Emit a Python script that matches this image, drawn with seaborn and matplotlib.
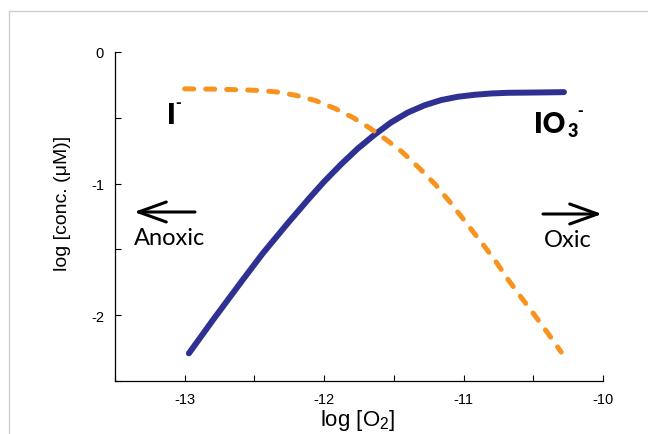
import numpy as np
import pandas as pd
import matplotlib
matplotlib.use("Agg")
import matplotlib.pyplot as plt
import seaborn as sns
from matplotlib.lines import Line2D

# ---- data ----
io3_x = [-12.97, -12.80, -12.59, -12.44, -12.26, -12.11, -12.00, -11.88, -11.76,
         -11.64, -11.52, -11.40, -11.28, -11.16, -11.04, -10.92, -10.80, -10.68,
         -10.50, -10.28]
io3_y = [-2.29, -2.04, -1.74, -1.53, -1.30, -1.115, -0.985, -0.855, -0.735,
         -0.63, -0.535, -0.46, -0.405, -0.365, -0.34, -0.325, -0.315, -0.31,
         -0.308, -0.305]

iod_x = [-13.00, -12.80, -12.60, -12.45, -12.33, -12.20, -12.06, -11.92, -11.79,
         -11.67, -11.55, -11.44, -11.32, -11.20, -11.09, -10.98, -10.87, -10.77,
         -10.68, -10.59, -10.49, -10.40, -10.30]
iod_y = [-0.28, -0.282, -0.287, -0.293, -0.305, -0.33, -0.37, -0.43, -0.50,
         -0.58, -0.67, -0.76, -0.88, -1.01, -1.15, -1.30, -1.45, -1.59,
         -1.73, -1.86, -2.00, -2.13, -2.28]

x_ticks = [-13.5, -13.0, -12.5, -12.0, -11.5, -11.0, -10.5, -10.0]
x_tick_labels = ["", "-13", "", "-12", "", "-11", "", "-10"]
y_ticks = [-2.5, -2.0, -1.5, -1.0, -0.5, 0.0]
y_tick_labels = ["", "-2", "", "-1", "", "0"]

# ---- style ----
sns.set_style("ticks")
plt.rcParams["font.family"] = ["Liberation Sans", "DejaVu Sans"]
plt.rcParams["text.color"] = "black"
plt.rcParams["axes.labelcolor"] = "black"
plt.rcParams["xtick.color"] = "black"
plt.rcParams["ytick.color"] = "black"
plt.rcParams["mathtext.fontset"] = "custom"
plt.rcParams["mathtext.sf"] = "Liberation Sans"
plt.rcParams["mathtext.rm"] = "Liberation Sans"

W, H = 648, 435
fig = plt.figure(figsize=(W / 100, H / 100), dpi=100)
ax = fig.add_axes([115 / W, 1 - 382 / H, 488 / W, 329 / H])

def fx(px):
    return (px - 115) / 488

def fy(py):
    return (382 - py) / 329

df_io3 = pd.DataFrame({"x": io3_x, "y": io3_y})
df_iod = pd.DataFrame({"x": iod_x, "y": iod_y})

sns.lineplot(data=df_io3, x="x", y="y", ax=ax, color="#2E3192", lw=4.3,
             sort=False, estimator=None)
l1 = ax.lines[-1]
l1.set_solid_capstyle("round")
l1.set_solid_joinstyle("round")

sns.lineplot(data=df_iod, x="x", y="y", ax=ax, color="#F7941D", lw=3.6,
             sort=False, estimator=None)
l2 = ax.lines[-1]
l2.set_dashes((1.8, 2.4))
l2.set_dash_capstyle("round")

ax.set_xlim(-13.5, -10.0)
ax.set_ylim(-2.5, 0.0)
ax.set_xticks(x_ticks)
ax.set_xticklabels(x_tick_labels)
ax.set_yticks(y_ticks)
ax.set_yticklabels(y_tick_labels)
ax.tick_params(direction="in", length=4, width=0.8, colors="black",
               labelsize=10.5, pad=8, bottom=True, left=True)
sns.despine(ax=ax)
for s in ("left", "bottom"):
    ax.spines[s].set_linewidth(0.9)
    ax.spines[s].set_color("black")

ax.set_xlabel(r"log [O$\mathsf{_2}$]", fontsize=16, ha="center", va="top")
ax.xaxis.set_label_coords(0.497, -0.08)
ax.set_ylabel("log [conc. (\u03bcM)]", fontsize=14)
ax.yaxis.set_label_coords(-0.09, 0.5426)

# ---- annotations ----
ion_kw = dict(transform=ax.transAxes, family="Lato", weight="heavy",
              ha="left", va="baseline")
ax.text(fx(167), fy(124), "I", fontsize=20, **ion_kw)
ax.text(fx(175.5), fy(108.5), "-", fontsize=11, **ion_kw)
ax.text(fx(534), fy(133), "IO", fontsize=20, **ion_kw)
ax.text(fx(567.5), fy(137), "3", fontsize=13, **ion_kw)
ax.text(fx(577), fy(115.5), "-", fontsize=11, **ion_kw)

ax.text(fx(169.5), fy(245), "Anoxic", transform=ax.transAxes, fontsize=17,
        family="Lato", ha="center", va="baseline")
ax.text(fx(567.5), fy(247), "Oxic", transform=ax.transAxes, fontsize=17,
        family="Lato", ha="center", va="baseline")

arrow_kw = dict(arrowstyle="->,head_length=1.0,head_width=0.36", lw=2.2,
                color="black", mutation_scale=20, shrinkA=0, shrinkB=0)
ax.annotate("", xy=(fx(134), fy(213)), xytext=(fx(195), fy(213)),
            xycoords="axes fraction", textcoords="axes fraction",
            arrowprops=arrow_kw, annotation_clip=False)
ax.annotate("", xy=(fx(602), fy(215)), xytext=(fx(543), fy(215)),
            xycoords="axes fraction", textcoords="axes fraction",
            arrowprops=arrow_kw, annotation_clip=False)

# light grey frame (left and top edges)
fig.add_artist(Line2D([9 / W, 9 / W], [0, 1 - 12 / H], transform=fig.transFigure,
                      color="#cfcfcf", lw=1))
fig.add_artist(Line2D([9 / W, 1], [1 - 12 / H, 1 - 12 / H], transform=fig.transFigure,
                      color="#cfcfcf", lw=1))

fig.savefig("out.png", dpi=100)
